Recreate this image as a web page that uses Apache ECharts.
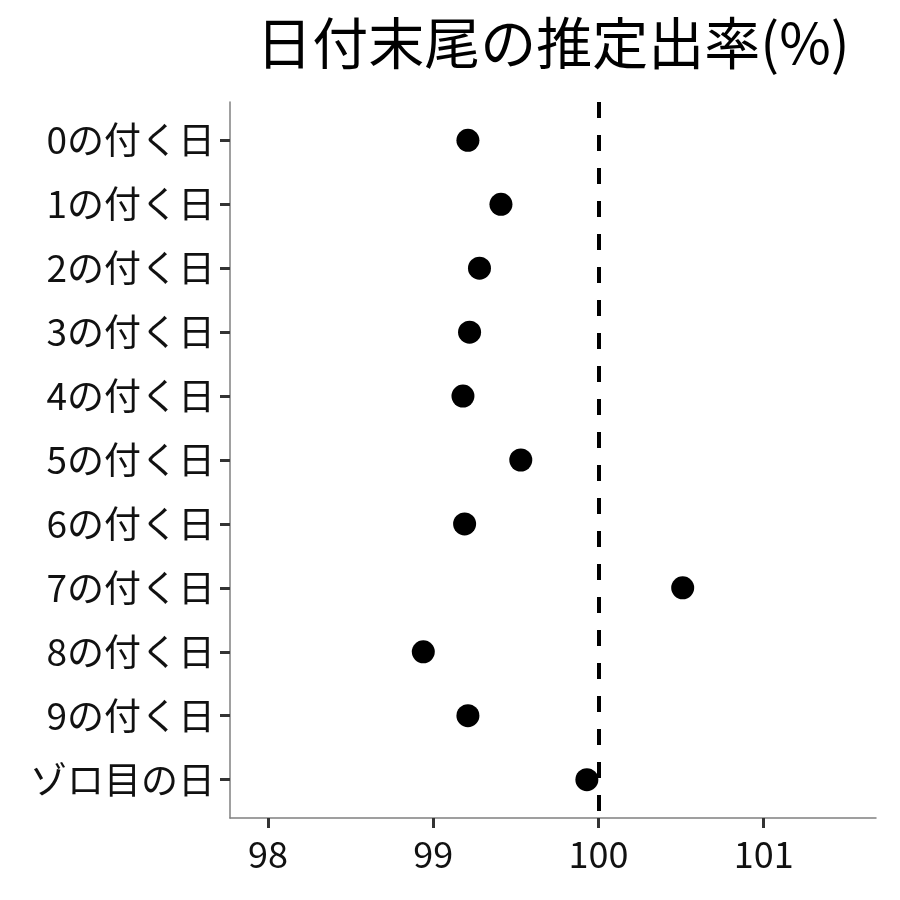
<!DOCTYPE html>
<html>
<head>
<meta charset="utf-8">
<script src="https://cdn.jsdelivr.net/npm/echarts@6/dist/echarts.min.js"></script>
<style>
	html, body { margin: 0; padding: 0; background: #fff; }
	#chart { width: 900px; height: 900px; }
</style>
</head>
<body>
<div id="chart"></div>
<script type="text/javascript">
// 日付末尾ごとの推定出率
var categories = ['0の付く日', '1の付く日', '2の付く日', '3の付く日', '4の付く日',
	'5の付く日', '6の付く日', '7の付く日', '8の付く日', '9の付く日', 'ゾロ目の日'];
var rates = [99.21, 99.41, 99.28, 99.22, 99.18, 99.53, 99.19, 100.51, 98.94, 99.21, 99.93];
var xTicks = [98, 99, 100, 101];
var refLine = 100;

var font = '"Noto Sans CJK JP", "Noto Sans", sans-serif';
var points = rates.map(function(v, i){ return [v, i]; });
var yTicks = categories.map(function(c, i){ return i; });

var chart = echarts.init(document.getElementById('chart'));
chart.setOption({
	animation: false,
	title: {
		text: '日付末尾の推定出率(%)',
		left: 548,
		textAlign: 'center',
		top: 10,
		textStyle: { fontFamily: font, fontSize: 56, fontWeight: 'normal', color: '#000' }
	},
	grid: { left: 230, right: 24, top: 102, bottom: 82 },
	xAxis: {
		type: 'value',
		min: 97.77,
		max: 101.68,
		splitLine: { show: false },
		axisLine: { show: true, onZero: false, lineStyle: { color: '#808080', width: 1.5 } },
		axisTick: { show: true, customValues: xTicks, length: 10, lineStyle: { color: '#333', width: 3 } },
		axisLabel: {
			customValues: xTicks,
			margin: 18,
			fontFamily: font, fontSize: 36, color: '#111'
		}
	},
	yAxis: {
		type: 'value',
		inverse: true,
		min: -0.6,
		max: 10.6,
		splitLine: { show: false },
		axisLine: { show: true, onZero: false, lineStyle: { color: '#808080', width: 1.5 } },
		axisTick: { show: true, customValues: yTicks, length: 10, lineStyle: { color: '#333', width: 3 } },
		axisLabel: {
			customValues: yTicks,
			margin: 15,
			fontFamily: font, fontSize: 37, color: '#111',
			formatter: function(v){ return categories[Math.round(v)]; }
		}
	},
	series: [{
		type: 'scatter',
		data: points,
		symbolSize: 23,
		itemStyle: { color: '#000', opacity: 1 },
		markLine: {
			silent: true,
			symbol: 'none',
			label: { show: false },
			lineStyle: { color: '#000', width: 4, type: [16, 17] },
			data: [{ xAxis: refLine }]
		},
		z: 3
	}]
});
</script>
</body>
</html>
